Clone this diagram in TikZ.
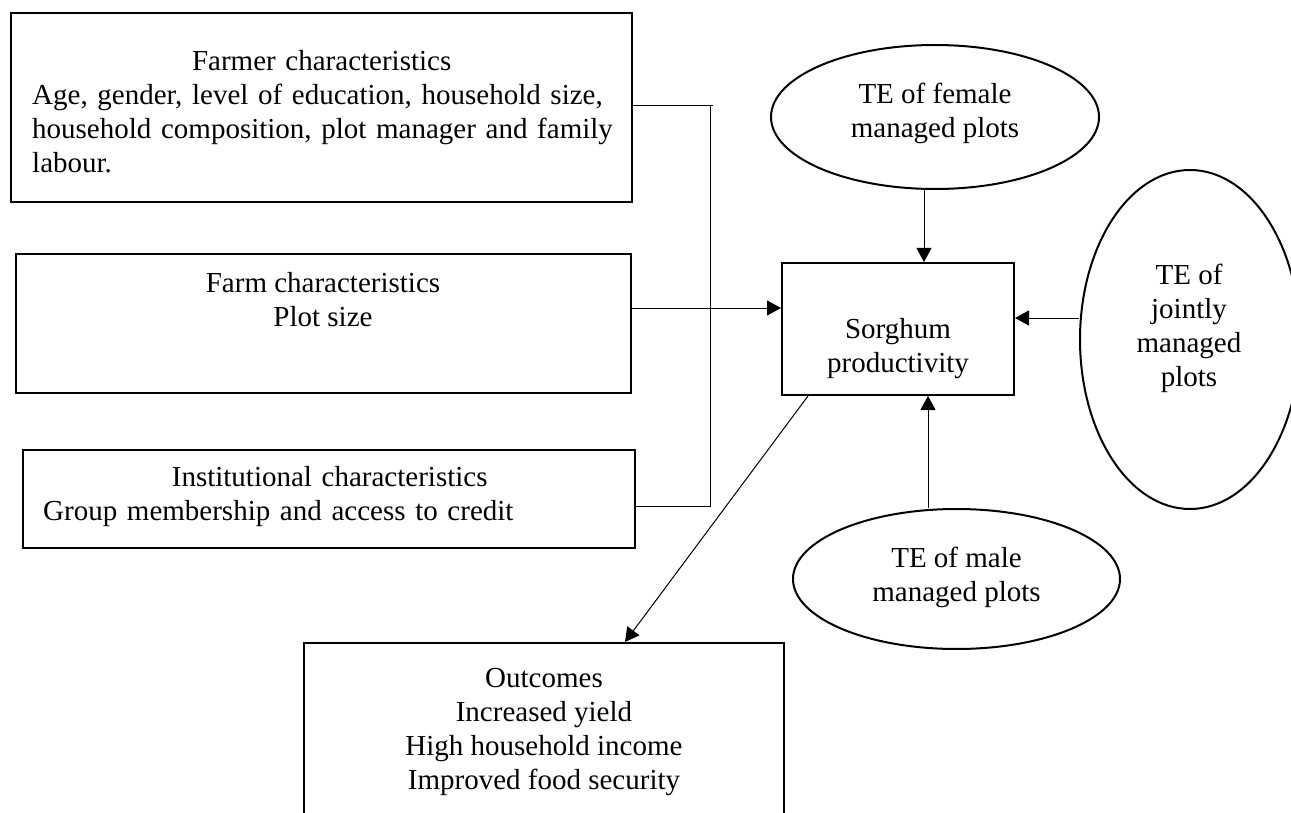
\documentclass[tikz,border=0pt]{standalone}
\usepackage{fontspec}
\setmainfont{Liberation Serif}
\usetikzlibrary{arrows.meta,shapes.geometric}
\begin{document}
\begin{tikzpicture}[x=1pt,y=-1pt,
  txt/.style={font=\fontsize{29}{34}\selectfont, inner sep=0pt},
  boxsh/.style={draw, line width=2pt, rectangle, inner sep=0pt},
  ellsh/.style={draw, line width=2pt, ellipse, inner sep=0pt},
  conn/.style={line width=1pt},
  arr/.style={conn, -{Triangle[length=14pt,width=15pt]}}]
\useasboundingbox (0,0) rectangle (1291,813);
\clip (0,0) rectangle (1291,813);
% boxes
\node[boxsh, minimum width=621pt, minimum height=189pt] (farmer) at (321.5,107.5) {};
\node[boxsh, minimum width=615pt, minimum height=139pt] (farm) at (323.5,323.5) {};
\node[boxsh, minimum width=612pt, minimum height=98pt] (inst) at (329,499) {};
\node[boxsh, minimum width=232pt, minimum height=132pt] (sorg) at (898,329) {};
\node[boxsh, minimum width=480pt, minimum height=200pt] (out) at (544,743) {};
\node[ellsh, minimum width=328pt, minimum height=144pt] (female) at (935,117) {};
\node[ellsh, minimum width=327pt, minimum height=140pt] (male) at (956.5,579) {};
\node[ellsh, minimum width=220pt, minimum height=339pt] (joint) at (1190,339.5) {};
% texts
\node[txt, anchor=west, text width=579pt, align=left] (farmertxt) at (32,111.5)
  {\makebox[579pt]{Farmer characteristics}\\\mbox{Age, gender, level of education, household size,}\\\mbox{household composition, plot manager and family}\\labour.};
\node[txt, align=center] (farmtxt) at (323,300) {Farm characteristics\\Plot size};
\node[txt, anchor=west, text width=573pt, align=left] (insttxt) at (43,496.5)
  {\makebox[573pt]{Institutional characteristics}\\\mbox{Group membership and access to credit}};
\node[txt, align=center] (sorgtxt) at (898,348.5) {Sorghum\\productivity};
\node[txt, align=center] (outtxt) at (544,732.5) {Outcomes\\Increased yield\\High household income\\Improved food security};
\node[txt, align=center] (femaletxt) at (935,113.5) {TE of female\\managed plots};
\node[txt, align=center] (maletxt) at (956.5,577.5) {TE of male\\managed plots};
\node[txt, align=center] (jointtxt) at (1189,328.5) {TE of\\jointly\\managed\\plots};
% helper coordinates
\coordinate (jtop) at (710,106);
\coordinate (jbot) at (710,506);
\coordinate (fy) at (0,308);
\coordinate (jy) at (0,318);
\coordinate (fx) at (924,0);
\coordinate (mx) at (928,0);
\coordinate (dsx) at (808,0);
\coordinate (dex) at (625,0);
% connectors
\draw[conn] (farmer.east |- jtop) -- ([xshift=3pt]jtop);
\draw[conn] (jtop) -- (jbot) -- (inst.east |- jbot);
\draw[arr] (farm.east |- fy) -- (sorg.west |- fy);
\draw[arr] (female.south -| fx) -- (sorg.north -| fx);
\draw[arr] (joint.west |- jy) -- (sorg.east |- jy);
\draw[arr] (male.north -| mx) -- (sorg.south -| mx);
\draw[arr] (sorg.south -| dsx) -- (out.north -| dex);
\end{tikzpicture}
\end{document}
